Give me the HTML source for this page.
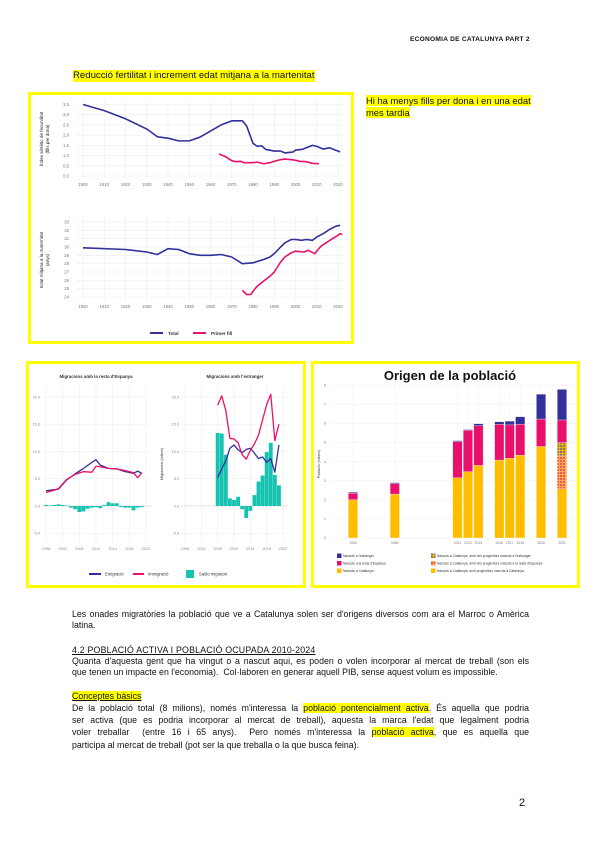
<!DOCTYPE html>
<html><head><meta charset="utf-8">
<style>
html,body{margin:0;padding:0;background:#fff;}
body{width:600px;height:848px;position:relative;overflow:hidden;font-family:"Liberation Sans",Arial,sans-serif;color:#111;}
.abs{position:absolute;}
.hl{background:#ffff00;}
.line{position:absolute;left:72px;width:457px;font-size:8.8px;line-height:11px;white-space:nowrap;}
.just{text-align:justify;text-align-last:justify;white-space:normal;}
.box{position:absolute;border:3px solid #ffff00;box-sizing:border-box;background:#fff;}
svg text{font-family:"Liberation Sans",Arial,sans-serif;}
</style></head><body>
<div class="abs" style="left:410px;top:36px;font-size:6.6px;font-weight:bold;letter-spacing:0.25px;">ECONOMIA DE CATALUNYA PART 2</div>
<div class="abs hl" style="left:73px;top:70px;font-size:9.6px;line-height:12px;">Reducció fertilitat i increment edat mitjana a la martenitat</div>
<div class="abs" style="left:366px;top:95px;font-size:9.4px;line-height:12px;"><span class="hl">Hi ha menys fills per dona i en una edat</span><br><span class="hl">mes tardia</span></div>

<div class="box" style="left:28px;top:92px;width:326px;height:252px;">
<svg id="c1" width="320" height="246" style="position:absolute;left:0;top:0"></svg></div>
<div class="box" style="left:26px;top:361px;width:280px;height:227px;">
<svg id="c2" width="274" height="221" style="position:absolute;left:0;top:0"></svg></div>
<div class="box" style="left:311px;top:361px;width:269px;height:227px;">
<svg id="c3" width="263" height="221" style="position:absolute;left:0;top:0"></svg></div>

<div class="line just" style="top:609px;">Les onades migratòries la població que ve a Catalunya solen ser d'origens diversos com ara el Marroc o Amèrica</div>
<div class="line" style="top:620px;">latina.</div>
<div class="line" style="top:645px;text-decoration:underline;letter-spacing:0.2px;">4.2 POBLACIÓ ACTIVA I POBLACIÓ OCUPADA 2010-2024</div>
<div class="line just" style="top:656px;">Quanta d'aquesta gent que ha vingut o a nascut aqui, es poden o volen incorporar al mercat de treball (son els</div>
<div class="line" style="top:667px;">que tenen un impacte en l'economia).&nbsp; Col·laboren en generar aquell PIB, sense aquest volum es impossible.</div>
<div class="line" style="top:691px;width:auto;"><span class="hl" style="text-decoration:underline;">Conceptes bàsics</span></div>
<div class="line just" style="top:703px;">De la població total (8 milions), només m'interessa la <span class="hl">població pontencialment activa</span>. És aquella que podria</div>
<div class="line just" style="top:715px;">ser activa (que es podria incorporar al mercat de treball), aquesta la marca l'edat que legalment podria</div>
<div class="line just" style="top:727px;">voler treballar&nbsp; (entre 16 i 65 anys).&nbsp; Pero només m'interessa la <span class="hl">població activa</span>, que es aquella que</div>
<div class="line" style="top:740px;">participa al mercat de treball (pot ser la que treballa o la que busca feina).</div>
<div class="abs" style="left:519px;top:797px;font-size:11px;">2</div>

<script>
// ---------- Chart 1 data ----------
const fertYearsTotal=[1900,1910,1920,1930,1935,1940,1945,1950,1955,1960,1965,1970,1975,1977,1980,1982,1984,1986,1990,1993,1995,1999,2000,2003,2006,2008,2010,2013,2016,2018,2021];
const fertTotal=[3.5,3.2,2.8,2.3,1.92,1.85,1.72,1.72,1.9,2.2,2.5,2.7,2.7,2.45,1.6,1.45,1.48,1.3,1.22,1.22,1.13,1.18,1.27,1.3,1.42,1.5,1.45,1.32,1.38,1.3,1.18];
const fertYearsFirst=[1964,1967,1970,1972,1974,1976,1980,1982,1985,1988,1990,1993,1995,1998,2000,2002,2005,2008,2011];
const fertFirst=[1.08,0.95,0.75,0.7,0.72,0.65,0.65,0.68,0.6,0.65,0.72,0.8,0.83,0.8,0.77,0.72,0.7,0.62,0.6];
const ageYearsTotal=[1900,1920,1930,1935,1940,1945,1950,1955,1960,1965,1970,1975,1980,1985,1988,1990,1993,1995,1998,2000,2003,2005,2008,2010,2013,2016,2019,2021];
const ageTotal=[29.9,29.7,29.4,29.1,29.8,29.7,29.2,29.0,29.0,29.1,28.8,28.0,28.1,28.5,28.8,29.2,30.0,30.5,30.9,30.9,30.8,30.9,30.8,31.2,31.6,32.1,32.5,32.6];
const ageYearsFirst=[1975,1977,1979,1980,1982,1985,1988,1990,1993,1995,1998,2000,2004,2006,2009,2012,2015,2018,2020,2021,2022];
const ageFirst=[24.8,24.3,24.3,24.7,25.3,25.9,26.5,27.0,28.2,28.8,29.3,29.5,29.4,29.6,29.2,30.1,30.6,31.1,31.4,31.6,31.5];
const yearTicks=[1900,1910,1920,1930,1940,1950,1960,1970,1980,1990,2000,2010,2020];
const fertTicks=[0,0.5,1,1.5,2,2.5,3,3.5];
const ageTicks=[24,25,26,27,28,29,30,31,32,33];

// ---------- Chart 2 data ----------
const migTickLabels=["1998","2002","2006","2010","2014","2018","2022"];
const migTickYears=[1998,2002,2006,2010,2014,2018,2022];
const migYTicks=[-5,0,5,10,15,20];
const spainYears=[1998,2000,2001,2003,2005,2007,2009,2010,2011,2013,2015,2017,2019,2020,2021];
const spainEmig=[2.8,3.0,3.1,4.8,5.9,6.9,8.0,8.5,7.5,6.9,6.8,6.3,6.0,6.4,6.0];
const spainImmig=[2.5,2.9,3.2,4.9,5.8,6.3,6.2,7.3,7.2,6.9,6.8,6.5,6.1,5.2,6.1];
const spainSaldoYears=[1998,1999,2000,2001,2002,2003,2004,2005,2006,2007,2008,2009,2010,2011,2012,2013,2014,2015,2016,2017,2018,2019,2020,2021];
const spainSaldo=[0.2,0.1,0.2,0.3,0.2,0.1,-0.3,-0.6,-1.1,-1.0,-0.5,-0.3,-0.2,-0.4,0.2,0.7,0.5,0.5,-0.2,-0.3,-0.3,-0.8,-0.3,-0.2];
const abroadYears=[2006,2007,2008,2009,2010,2011,2012,2013,2014,2015,2016,2017,2018,2019,2020,2021];
const abroadEmig=[5.2,6.8,8.3,10.6,11.2,10.3,9.8,10.4,10.6,9.7,8.7,9.0,8.0,8.7,6.2,11.2];
const abroadImmig=[18.5,20.2,17.5,12.4,12.3,11.6,9.4,8.6,10.2,11.4,13.0,15.8,18.6,20.5,12.0,15.0];
const abroadSaldo=[13.4,13.3,9.4,1.4,1.1,1.7,-0.6,-2.2,-0.9,2.0,4.5,5.6,9.9,11.6,5.7,3.8];

// ---------- Chart 3 data ----------
const originCategories=["1930","","","","1950","","","","","","2011","2012","2013","","2016","2017","2018","","2020","","2021"];
const bornCatalonia=[2.0,null,null,null,2.3,null,null,null,null,null,3.15,3.47,3.8,null,4.08,4.17,4.33,null,4.79,null,2.58];
const catParentsSpain=[0,null,null,null,0,null,null,null,null,null,0,0,0,null,0,0,0,null,0,null,1.72];
const catParentsAbroad=[0,null,null,null,0,null,null,null,null,null,0,0,0,null,0,0,0,null,0,null,0.7];
const bornSpain=[0.35,null,null,null,0.55,null,null,null,null,null,1.9,2.18,2.08,null,1.88,1.75,1.63,null,1.44,null,1.18];
const bornAbroad=[0.05,null,null,null,0.05,null,null,null,null,null,0.05,0.03,0.1,null,0.12,0.2,0.39,null,1.3,null,1.6];
const originTicks=[0,1,2,3,4,5,6,7,8];

const NS="http://www.w3.org/2000/svg";
function mk(parent,tag,attrs,txt){const e=document.createElementNS(NS,tag);for(const k in attrs)e.setAttribute(k,attrs[k]);if(txt!==undefined)e.textContent=txt;parent.appendChild(e);return e;}
const BLUE="#32309a",PINK="#e8106a",TEAL="#16c2b0",ORANGE="#ffbd00";

// ===== Chart 1 =====
(function(){
 const s=document.getElementById('c1');
 const x=y=>52+(y-1900)/120*255;
 const yf=v=>81-(v/3.5)*71.5;
 const ya=v=>202-(v-24)/9*75;
 const g1=mk(s,'g',{});
 
 
 yearTicks.forEach(t=>{
  const l=mk(g1,'line',{x1:x(t),x2:x(t),y1:6,y2:83,stroke:'#ececec','stroke-width':0.6});
  
  const tx=mk(g1,'text',{x:x(t),y:91,'font-size':4.3,fill:'#777','text-anchor':'middle'},t);
  
  const l2=mk(g1,'line',{x1:x(t),x2:x(t),y1:120,y2:206,stroke:'#ececec','stroke-width':0.6});
  
  const tx2=mk(g1,'text',{x:x(t),y:213,'font-size':4.3,fill:'#777','text-anchor':'middle'},t);
  
 });
 fertTicks.forEach(t=>{
  const l=mk(g1,'line',{x1:46,x2:312,y1:yf(t),y2:yf(t),stroke:'#ececec','stroke-width':0.6});
  
  const tx=mk(g1,'text',{x:38,y:yf(t)+1.5,'font-size':4.3,fill:'#777','text-anchor':'end'},t.toFixed(1).replace('.',','));
  
 });
 ageTicks.forEach(t=>{
  const l=mk(g1,'line',{x1:46,x2:312,y1:ya(t),y2:ya(t),stroke:'#ececec','stroke-width':0.6});
  
  const tx=mk(g1,'text',{x:38,y:ya(t)+1.5,'font-size':4.3,fill:'#777','text-anchor':'end'},t);
  
 });
 function line(xs,vs,fy,col,name){
  const p=mk(g1,'polyline',{points:xs.map((yr,i)=>x(yr)+','+fy(vs[i])).join(' '),fill:'none',stroke:col,'stroke-width':1.6,'stroke-linejoin':'round'});
  
 }
 line(fertYearsTotal,fertTotal,yf,BLUE,'fertility-total-line');
 line(fertYearsFirst,fertFirst,yf,PINK,'fertility-first-child-line');
 line(ageYearsTotal,ageTotal,ya,BLUE,'age-total-line');
 line(ageYearsFirst,ageFirst,ya,PINK,'age-first-child-line');
 const t1=mk(g1,'text',{'font-size':4.6,fill:'#222','text-anchor':'middle',transform:'translate(12,44) rotate(-90)'});
 
 mk(t1,'tspan',{x:0,dy:0},'Índex sintètic de fecunditat');mk(t1,'tspan',{x:0,dy:6},'(fills per dona)');
 const t2=mk(g1,'text',{'font-size':4.6,fill:'#222','text-anchor':'middle',transform:'translate(12,165) rotate(-90)'});
 
 mk(t2,'tspan',{x:0,dy:0},'Edat mitjana a la maternitat');mk(t2,'tspan',{x:0,dy:6},'(anys)');
 const lg=mk(g1,'g',{});
 mk(lg,'line',{x1:119,x2:132,y1:238,y2:238,stroke:BLUE,'stroke-width':2});
 mk(lg,'text',{x:137,y:240,'font-size':4.6,fill:'#333','font-weight':'bold'},'Total');
 mk(lg,'line',{x1:162,x2:175,y1:238,y2:238,stroke:PINK,'stroke-width':2});
 mk(lg,'text',{x:180,y:240,'font-size':4.6,fill:'#333','font-weight':'bold'},'Primer fill');
})();

// ===== Chart 2 =====
(function(){
 const s=document.getElementById('c2');
 const yv=v=>142-v*5.45;
 const panels=[{x0:17,x1:117,name:'spain'},{x0:156,x1:254,name:'abroad'}];
 const g=mk(s,'g',{});
 panels.forEach(p=>{
  const xs=yr=>p.x0+(yr-1998)/24*(p.x1-p.x0);
  p.xs=xs;
  migTickYears.forEach((yr,i)=>{
   const l=mk(g,'line',{x1:xs(yr),x2:xs(yr),y1:22,y2:178,stroke:'#ececec','stroke-width':0.6});
   
   const t=mk(g,'text',{x:xs(yr),y:186,'font-size':3.8,fill:'#888','text-anchor':'middle'},migTickLabels[i]);
   
  });
  migYTicks.forEach(v=>{
   const l=mk(g,'line',{x1:p.x0-4,x2:p.x1+4,y1:yv(v),y2:yv(v),stroke:'#ececec','stroke-width':0.6});
   
   const t=mk(g,'text',{x:p.x0-6,y:yv(v)+1.3,'font-size':3.8,fill:'#888','text-anchor':'end'},v.toFixed(1));
   
  });
  const z=mk(g,'line',{x1:p.x0-4,x2:p.x1+6,y1:yv(0),y2:yv(0),stroke:'#aaa','stroke-width':0.6,'stroke-dasharray':'1.5,1.5'});
  
 });
 const bw=(panels[0].x1-panels[0].x0)/24;
 function bars(p,yrs,vals,name){
  yrs.forEach((yr,i)=>{
   const v=vals[i];const y0=yv(Math.max(v,0)),h=Math.abs(yv(v)-yv(0));
   const r=mk(g,'rect',{x:p.xs(yr)-bw/2+0.15,y:y0,width:bw-0.3,height:h,fill:TEAL});
   
  });
 }
 function line(p,yrs,vals,col,name){
  const l=mk(g,'polyline',{points:yrs.map((yr,i)=>p.xs(yr)+','+yv(vals[i])).join(' '),fill:'none',stroke:col,'stroke-width':1.3,'stroke-linejoin':'round'});
  
 }
 bars(panels[0],spainSaldoYears,spainSaldo,'spain-saldo-bar');
 line(panels[0],spainYears,spainEmig,BLUE,'spain-emigration-line');
 line(panels[0],spainYears,spainImmig,PINK,'spain-immigration-line');
 bars(panels[1],abroadYears,abroadSaldo,'abroad-saldo-bar');
 line(panels[1],abroadYears,abroadEmig,BLUE,'abroad-emigration-line');
 line(panels[1],abroadYears,abroadImmig,PINK,'abroad-immigration-line');
 const t1=mk(g,'text',{x:67,y:14,'font-size':4.4,fill:'#333','font-weight':'bold','text-anchor':'middle'},"Migracions amb la resta d'Espanya");
 
 const t2=mk(g,'text',{x:206,y:14,'font-size':4.4,fill:'#333','font-weight':'bold','text-anchor':'middle'},"Migracions amb l'estranger");
 
 const t3=mk(g,'text',{'font-size':3.8,fill:'#333','text-anchor':'middle',transform:'translate(134,100) rotate(-90)'},'Migracions (milers)');
 
 const lg=mk(g,'g',{});
 mk(lg,'line',{x1:60,x2:72,y1:210,y2:210,stroke:BLUE,'stroke-width':2});
 mk(lg,'text',{x:76,y:211.5,'font-size':4.2,fill:'#333'},'Emigració');
 mk(lg,'line',{x1:104,x2:115,y1:210,y2:210,stroke:PINK,'stroke-width':2});
 mk(lg,'text',{x:119,y:211.5,'font-size':4.2,fill:'#333'},'Immigració');
 mk(lg,'rect',{x:157,y:206,width:8,height:8,fill:TEAL});
 mk(lg,'text',{x:170,y:211.5,'font-size':4.2,fill:'#333'},'Saldo migratori');
})();

// ===== Chart 3 =====
(function(){
 const s=document.getElementById('c3');
 const defs=mk(s,'defs',{});
 const p1=mk(defs,'pattern',{id:'hatchPink',width:3,height:3,patternUnits:'userSpaceOnUse'});
 mk(p1,'rect',{width:3,height:3,fill:'#ffb347'});mk(p1,'circle',{cx:1,cy:1,r:0.9,fill:PINK});
 const p2=mk(defs,'pattern',{id:'hatchBlue',width:3,height:3,patternUnits:'userSpaceOnUse'});
 mk(p2,'rect',{width:3,height:3,fill:'#f0b400'});mk(p2,'circle',{cx:1,cy:1,r:0.9,fill:'#4a4aa8'});
 const g=mk(s,'g',{});
 const yv=v=>174-v*19.1;
 const slot=10.45,x0=39;
 const xc=i=>x0+i*slot;
 originTicks.forEach(t=>{
  const l=mk(g,'line',{x1:18,x2:262,y1:yv(t),y2:yv(t),stroke:'#eeeeee','stroke-width':0.5});
  
  const tx=mk(g,'text',{x:12,y:yv(t)+1.2,'font-size':3.6,fill:'#777','text-anchor':'end'},t);
  
 });
 const bw=9.4;
 originCategories.forEach((c,i)=>{
  if(bornCatalonia[i]===null)return;
  const vl=mk(g,'line',{x1:xc(i),x2:xc(i),y1:20,y2:174,stroke:'#f0f0f0','stroke-width':0.5});
  
  let base=0;
  const segs=[[bornCatalonia,ORANGE,'origin-bar-born-catalonia'],[catParentsSpain,'url(#hatchPink)','origin-bar-parents-spain'],[catParentsAbroad,'url(#hatchBlue)','origin-bar-parents-abroad'],[bornSpain,PINK,'origin-bar-born-spain'],[bornAbroad,BLUE,'origin-bar-born-abroad']];
  segs.forEach(sg=>{
   const v=sg[0][i];if(!v)return;
   const r=mk(g,'rect',{x:xc(i)-bw/2,y:yv(base+v),width:bw,height:yv(base)-yv(base+v),fill:sg[1],stroke:'#fff','stroke-width':0.3});
   
   base+=v;
  });
  const tx=mk(g,'text',{x:xc(i),y:180,'font-size':3.4,fill:'#777','text-anchor':'middle'},c);
  
 });
 const tt=mk(g,'text',{x:136,y:16,'font-size':13,'font-weight':'bold','font-family':'"Liberation Serif",serif',fill:'#111','text-anchor':'middle'},'Origen de la població');
 
 const yt=mk(g,'text',{'font-size':3.6,fill:'#333','text-anchor':'middle',transform:'translate(6,100) rotate(-90)'},'Població (milions)');
 
 const lg=mk(g,'g',{});
 const items=[[23,192,BLUE,"Nascuts a l'estranger"],[23,199.5,PINK,"Nascuts a la resta d'Espanya"],[23,207,ORANGE,"Nascuts a Catalunya"],[117,192,'url(#hatchBlue)',"Nascuts a Catalunya, amb dos progenitors nascuts a l'estranger"],[117,199.5,'url(#hatchPink)',"Nascuts a Catalunya, amb dos progenitors nascuts a la resta d'Espanya"],[117,207,ORANGE,"Nascuts a Catalunya, amb progenitors nascuts a Catalunya"]];
 items.forEach(it=>{
  mk(lg,'rect',{x:it[0],y:it[1]-2.5,width:4.5,height:4.5,fill:it[2]});
  mk(lg,'text',{x:it[0]+6,y:it[1]+1,'font-size':3.3,fill:'#333'},it[3]);
 });
})();
</script>
</body></html>
